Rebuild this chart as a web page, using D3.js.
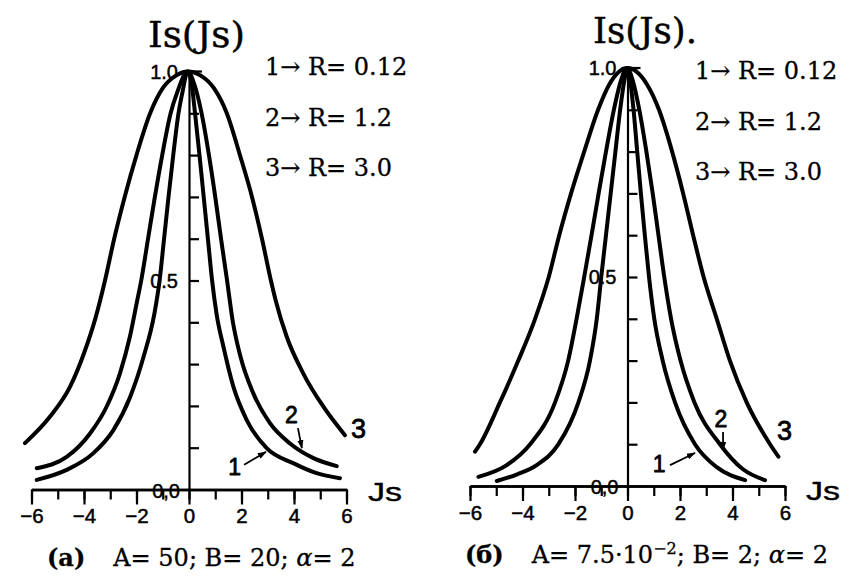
<!DOCTYPE html>
<html>
<head>
<meta charset="utf-8">
<script src="https://cdn.jsdelivr.net/npm/d3@7"></script>
<style>
  body { margin: 0; background: #fff; }
  svg { display: block; }
</style>
</head>
<body>
<svg id="chart" width="867" height="587"></svg>
<script>
// ---- Axis ticks and labels ----
const jsTicks = [-6, -5, -4, -3, -2, -1, 0, 1, 2, 3, 4, 5, 6];
const jsLabels = [-6, -4, -2, 0, 2, 4, 6];
const isTicks = [0.1, 0.2, 0.3, 0.4, 0.5, 0.6, 0.7, 0.8, 0.9, 1.0];
const isLabels = [0.5, 1.0];
const legendRows = ["1\u2192 R= 0.12", "2\u2192 R= 1.2", "3\u2192 R= 3.0"];
const curveNames = ["1", "2", "3"];

// ---- Panel (a): A = 50, B = 20, alpha = 2 ; points are [Js, Is] ----
const curveA1 = [[-5.80,0.023],[-4.66,0.047],[-3.64,0.087],[-2.88,0.142],[-2.25,0.22],[-1.72,0.32],
  [-1.32,0.42],[-1.12,0.5],[-0.95,0.6],[-0.78,0.7],[-0.60,0.8],[-0.40,0.9],[-0.25,0.95],[-0.05,1.0],
  [0.10,0.97],[0.23,0.9],[0.40,0.8],[0.56,0.7],[0.72,0.6],[0.88,0.5],[1.05,0.42],[1.31,0.342],
  [1.69,0.246],[2.20,0.166],[2.96,0.099],[3.97,0.063],[4.86,0.039],[5.75,0.027]];
const curveA2 = [[-5.80,0.051],[-4.66,0.078],[-3.77,0.134],[-3.14,0.198],[-2.63,0.278],[-2.25,0.366],
  [-1.97,0.453],[-1.82,0.5],[-1.56,0.6],[-1.30,0.7],[-1.02,0.8],[-0.70,0.9],[-0.45,0.95],[-0.05,1.0],
  [0.20,0.97],[0.48,0.9],[0.76,0.8],[1.00,0.7],[1.22,0.6],[1.45,0.5],[1.66,0.405],[1.96,0.318],
  [2.45,0.23],[3.09,0.158],[3.85,0.11],[4.74,0.075],[5.63,0.056]];
const curveA3 = [[-6.25,0.111],[-5.30,0.174],[-4.53,0.246],[-4.00,0.326],[-3.55,0.413],[-3.20,0.5],
  [-2.85,0.6],[-2.45,0.7],[-2.00,0.8],[-1.48,0.9],[-1.00,0.96],[-0.50,0.99],[-0.05,1.0],[0.45,0.99],
  [0.95,0.96],[1.44,0.9],[1.94,0.8],[2.40,0.7],[2.78,0.6],[3.12,0.5],[3.30,0.453],[3.72,0.366],
  [4.35,0.278],[5.12,0.198],[5.94,0.13]];

// ---- Panel (б): A = 7.5e-2, B = 2, alpha = 2 ----
const curveB1 = [[-4.98,0.012],[-4.20,0.028],[-3.46,0.05],[-2.63,0.1],[-1.87,0.2],[-1.43,0.3],
  [-1.17,0.4],[-1.00,0.5],[-0.82,0.6],[-0.64,0.7],[-0.46,0.8],[-0.28,0.9],[-0.12,0.97],[0.0,1.0],
  [0.10,0.97],[0.23,0.9],[0.37,0.8],[0.51,0.7],[0.66,0.6],[0.82,0.5],[1.02,0.4],[1.34,0.3],
  [1.81,0.2],[2.57,0.1],[3.40,0.045],[4.48,0.014]];
const curveB2 = [[-5.68,0.022],[-4.60,0.05],[-3.71,0.1],[-2.76,0.2],[-2.26,0.3],[-1.94,0.4],
  [-1.65,0.5],[-1.37,0.6],[-1.10,0.7],[-0.82,0.8],[-0.52,0.9],[-0.25,0.97],[-0.02,1.0],[0.20,0.97],
  [0.45,0.9],[0.72,0.8],[0.96,0.7],[1.18,0.6],[1.40,0.5],[1.66,0.4],[2.02,0.3],[2.55,0.2],
  [3.52,0.1],[4.40,0.04],[5.24,0.014]];
const curveB3 = [[-5.81,0.082],[-5.62,0.1],[-4.86,0.2],[-4.16,0.3],[-3.52,0.4],[-3.00,0.5],
  [-2.60,0.6],[-2.15,0.7],[-1.65,0.8],[-1.12,0.9],[-0.70,0.96],[0.0,1.0],[0.75,0.96],[1.20,0.9],
  [1.70,0.8],[2.12,0.7],[2.50,0.6],[2.90,0.5],[3.40,0.4],[3.90,0.3],[4.54,0.2],[5.43,0.1],[5.75,0.07]];

// ---- Annotation anchors in data units ----
const notesA = {
  one:   { label: [1.98, 0.035], tail: [2.10, 0.059], tip: [2.93, 0.090] },
  two:   { label: [3.90, 0.159], tail: [4.15, 0.147], tip: [4.30, 0.099] },
  three: { label: [6.46, 0.123] }
};
const notesB = {
  one:   { label: [1.45, 0.033], tail: [1.62, 0.050], tip: [2.57, 0.079] },
  two:   { label: [3.56, 0.141], tail: [3.64, 0.129], tip: [3.64, 0.086] },
  three: { label: [5.98, 0.110] }
};

const svg = d3.select("#chart");
svg.append("rect").attr("width", 867).attr("height", 587).attr("fill", "#fff");

const defs = svg.append("defs");
defs.append("marker")
  .attr("id", "arrowhead")
  .attr("viewBox", "0 0 10 10")
  .attr("refX", 9).attr("refY", 5)
  .attr("markerWidth", 9).attr("markerHeight", 9)
  .attr("markerUnits", "userSpaceOnUse")
  .attr("orient", "auto")
  .append("path").attr("d", "M0,1.5 L10,5 L0,8.5 Z").attr("fill", "#000");

const serif = "'DejaVu Serif', 'Liberation Serif', serif";
const sans = "'Liberation Sans', Arial, sans-serif";
const fmtJs = v => (v < 0 ? "\u2212" + Math.abs(v) : String(v));

// heavier, print-like text
function ink(sel, w) {
  return sel.attr("fill", "#000").attr("stroke", "#000").attr("stroke-width", w)
    .attr("stroke-linejoin", "round");
}

function drawPanel(cfg) {
  const x = d3.scaleLinear().domain([-6, 6]).range(cfg.xRange);
  const y = d3.scaleLinear().domain([0, 1]).range(cfg.yRange);
  const g = svg.append("g");
  const x0 = x(0), y0 = y(0);

  // horizontal axis: minor ticks for every unit, longer ticks with labels for even units
  const minorAxis = d3.axisBottom(x).tickValues(jsTicks).tickSize(10).tickSizeOuter(0).tickFormat("");
  const majorAxis = d3.axisBottom(x).tickValues(jsLabels).tickSize(15).tickSizeOuter(0)
    .tickPadding(4).tickFormat(fmtJs);
  const gx1 = g.append("g").attr("transform", `translate(0,${y0})`).call(minorAxis);
  const gx2 = g.append("g").attr("transform", `translate(0,${y0})`).call(majorAxis);
  [gx1, gx2].forEach(s => {
    s.selectAll("path.domain").attr("stroke", "#000").attr("stroke-width", 2.4);
    s.selectAll(".tick line").attr("stroke", "#000").attr("stroke-width", 2.2);
  });
  ink(gx2.selectAll(".tick text").attr("font-family", sans).attr("font-size", 20.5), 0.5);

  // vertical axis at Js = 0, ticks pointing right
  const yAxis = d3.axisRight(y).tickValues(isTicks).tickSize(10).tickSizeOuter(0).tickFormat("");
  const gy = g.append("g").attr("transform", `translate(${x0},0)`).call(yAxis);
  gy.selectAll("path.domain").attr("stroke", "#000").attr("stroke-width", 2.2);
  gy.selectAll(".tick line").attr("stroke", "#000").attr("stroke-width", 2.2);
  // the top tick runs across the axis
  g.append("line").attr("x1", x0 - 6).attr("x2", x0 + 13)
    .attr("y1", y(1)).attr("y2", y(1)).attr("stroke", "#000").attr("stroke-width", 2.2);

  ink(g.selectAll("text.ylab").data(isLabels).join("text")
    .attr("class", "ylab")
    .attr("x", x0 - 11).attr("y", d => y(d)).attr("dy", "0.36em")
    .attr("text-anchor", "end").attr("font-family", sans).attr("font-size", 20)
    .text(d => d.toFixed(1)), 0.45);
  ink(g.append("text").attr("x", x0 - 9).attr("y", y0 + 1).attr("dy", "0.36em")
    .attr("text-anchor", "end").attr("font-family", sans).attr("font-size", 20)
    .text("0,0"), 0.45);

  // curves
  const line = d3.line().x(d => x(d[0])).y(d => y(d[1])).curve(d3.curveMonotoneX);
  g.selectAll("path.curve").data(cfg.curves).join("path")
    .attr("class", "curve")
    .attr("d", line)
    .attr("fill", "none").attr("stroke", "#000").attr("stroke-width", 4)
    .attr("stroke-linecap", "round").attr("stroke-linejoin", "round");

  // curve numbers with pointer arrows
  const n = cfg.notes;
  ink(g.append("text").attr("x", x(n.one.label[0])).attr("y", y(n.one.label[1]))
    .attr("text-anchor", "end").attr("font-family", sans).attr("font-size", 23).text(curveNames[0]), 0.8);
  ink(g.append("text").attr("x", x(n.two.label[0])).attr("y", y(n.two.label[1]))
    .attr("text-anchor", "middle").attr("font-family", sans).attr("font-size", 23).text(curveNames[1]), 0.8);
  ink(g.append("text").attr("x", x(n.three.label[0])).attr("y", y(n.three.label[1]))
    .attr("text-anchor", "middle").attr("font-family", sans).attr("font-size", 27).text(curveNames[2]), 0.8);
  [n.one, n.two].forEach(a => {
    g.append("line")
      .attr("x1", x(a.tail[0])).attr("y1", y(a.tail[1]))
      .attr("x2", x(a.tip[0])).attr("y2", y(a.tip[1]))
      .attr("stroke", "#000").attr("stroke-width", 1.8)
      .attr("marker-end", "url(#arrowhead)");
  });

  // axis titles
  ink(g.append("text").attr("x", cfg.titlePos[0]).attr("y", cfg.titlePos[1])
    .attr("font-family", serif).attr("font-size", 35)
    .attr("textLength", cfg.titleLen).attr("lengthAdjust", "spacingAndGlyphs").text(cfg.title), 0.4);
  ink(g.append("text").attr("x", cfg.jsPos[0]).attr("y", cfg.jsPos[1])
    .attr("font-family", sans).attr("font-size", 26)
    .attr("textLength", 34).attr("lengthAdjust", "spacingAndGlyphs").text("Js"), 0.4);

  // legend
  ink(g.selectAll("text.leg").data(legendRows).join("text")
    .attr("class", "leg")
    .attr("x", cfg.legendPos[0]).attr("y", (d, i) => cfg.legendPos[1] + i * 50.5)
    .attr("font-family", serif).attr("font-size", 24).text(d => d), 0.3);

  // caption
  const cap = ink(g.append("text").attr("x", cfg.captionPos[0]).attr("y", cfg.captionPos[1])
    .attr("font-family", serif).attr("font-size", 24), 0.3);
  cap.append("tspan").attr("font-weight", "bold").text(cfg.tag);
  cfg.caption.forEach(part => {
    const t = cap.append("tspan").text(part.t);
    if (part.dx) t.attr("dx", part.dx);
    if (part.italic) t.attr("font-style", "italic");
    if (part.sup) t.attr("font-size", 16).attr("baseline-shift", "super");
  });
}

drawPanel({
  xRange: [31.5, 346.5], yRange: [489.5, 71.5],
  curves: [curveA1, curveA2, curveA3], notes: notesA,
  title: "Is(Js)", titlePos: [148, 47], titleLen: 97,
  jsPos: [368, 501], legendPos: [265, 75],
  captionPos: [47, 566], tag: "(a)",
  caption: [{ t: "A= 50; B= 20; ", dx: 28 }, { t: "\u03b1", italic: true }, { t: "= 2" }]
});

drawPanel({
  xRange: [470, 785], yRange: [486, 68],
  curves: [curveB1, curveB2, curveB3], notes: notesB,
  title: "Is(Js).", titlePos: [593, 43], titleLen: 104,
  jsPos: [806, 500], legendPos: [695, 79],
  captionPos: [465, 563], tag: "(\u0431)",
  caption: [{ t: "A= 7.5\u00b710", dx: 28 }, { t: "\u22122", sup: true }, { t: "; B= 2; " },
            { t: "\u03b1", italic: true }, { t: "= 2" }]
});
</script>
</body>
</html>
